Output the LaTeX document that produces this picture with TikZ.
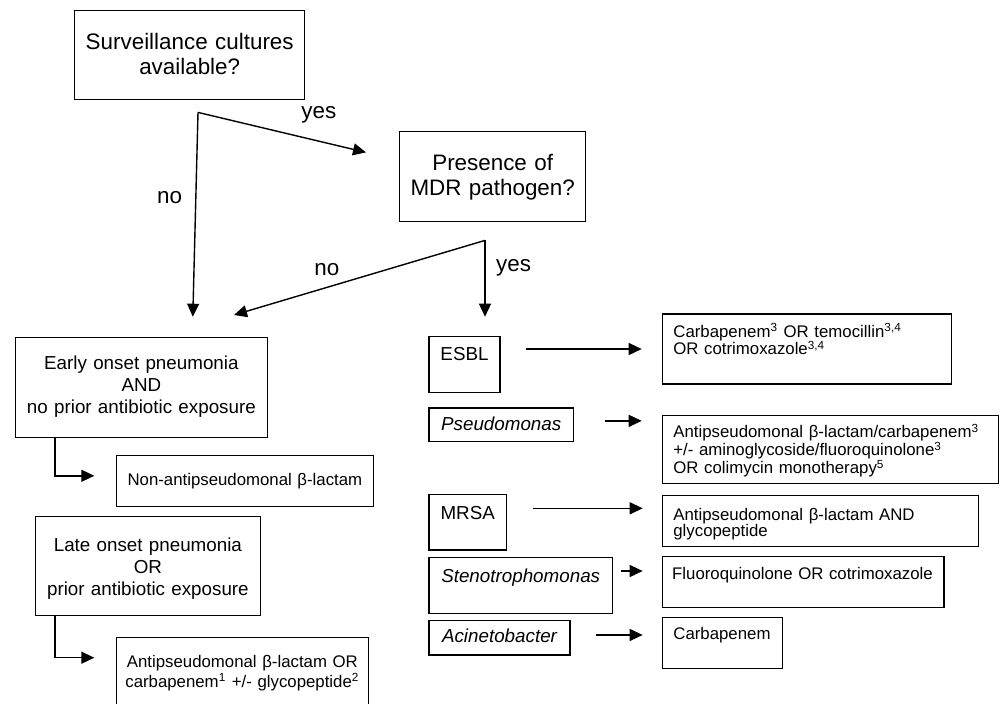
\documentclass[tikz,border=0pt]{standalone}
\usepackage{fontspec}
\setmainfont{Liberation Sans}
\usetikzlibrary{arrows.meta}

\begin{document}
\begin{tikzpicture}[
    x=0.5pt, y=-0.5pt,
    box/.style={draw, rectangle, anchor=north west, inner ysep=0pt, inner xsep=2pt, line width=0.7pt, align=center},
    sz/.style n args={3}{text width=#1, text height=#2, text depth=#3},
    big/.style={font=\fontsize{11.2}{12.5}\selectfont},
    mid/.style={font=\fontsize{9.4}{11}\selectfont},
    lx/.style={font=\fontsize{8.4}{10}\selectfont},
    rx/.style={font=\fontsize{8.4}{#1}\selectfont, align=left, inner xsep=5.5pt},
    lbl/.style={anchor=base west, inner sep=0pt, font=\fontsize{11.2}{12.5}\selectfont},
    arr/.style={-{Triangle[length=6.5pt,width=6pt]}, line width=0.7pt}
]
    \useasboundingbox (0,0) rectangle (1001,703);
    \clip (0,0) rectangle (1001,703);

    % questions
    \node[box, big, sz={111pt}{19.15pt}{25.35pt}] (surv) at (74,10) {Surveillance cultures\\available?};
    \node[box, big, sz={89pt}{19.15pt}{25.85pt}] (mdr) at (399,131) {Presence of\\MDR pathogen?};

    % no MDR pathogen
    \node[box, mid, sz={122pt}{16pt}{34pt}] (early) at (14.7,336.7) {Early onset pneumonia\\AND\\no prior antibiotic exposure};
    \node[box, lx, sz={124.5pt}{15pt}{10.5pt}] (nonap) at (115.7,455) {Non-antipseudomonal β-lactam};
    \node[box, mid, sz={108.5pt}{17.35pt}{32.15pt}] (late) at (34.7,515.7) {Late onset pneumonia\\OR\\prior antibiotic exposure};
    \node[box, lx, sz={122pt}{14.85pt}{19.15pt}] (apb) at (115.7,637) {Antipseudomonal β-lactam OR\\carbapenem\textsuperscript{1} +/- glycopeptide\textsuperscript{2}};

    % pathogens
    \node[box, mid, sz={31.5pt}{12pt}{15.85pt}] (esbl) at (428.3,336) {ESBL};
    \node[box, mid, sz={68.2pt}{11.35pt}{5.5pt}] (pseudo) at (428.3,407.3) {\itshape Pseudomonas};
    \node[box, mid, sz={34.7pt}{12.15pt}{15.5pt}] (mrsa) at (428.3,494) {MRSA};
    \node[box, mid, sz={87.7pt}{12.4pt}{15.6pt}] (steno) at (428.3,556.7) {\itshape Stenotrophomonas};
    \node[box, mid, sz={66.5pt}{10.85pt}{6.3pt}] (acin) at (428.3,620) {\itshape Acinetobacter};

    % treatments
    \node[box, rx=8.7, sz={133.65pt}{11.7pt}{23.3pt}] (carba) at (661.7,313.3) {Carbapenem\textsuperscript{3} OR temocillin\textsuperscript{3,4}\\OR cotrimoxazole\textsuperscript{3,4}};
    \node[box, rx=9, sz={157pt}{11pt}{23pt}] (apc) at (661.7,415) {Antipseudomonal β-lactam/carbapenem\textsuperscript{3}\\+/- aminoglycoside/fluoroquinolone\textsuperscript{3}\\OR colimycin monotherapy\textsuperscript{5}};
    \node[box, rx=8.2, sz={147.05pt}{12.15pt}{13.35pt}] (apd) at (661.7,495) {Antipseudomonal β-lactam AND\\glycopeptide};
    \node[box, rx=8.7, inner xsep=4.9pt, sz={131pt}{11.15pt}{14.2pt}] (fluoro) at (661.7,556) {Fluoroquinolone OR cotrimoxazole};
    \node[box, rx=8.7, sz={49pt}{10.8pt}{14.7pt}] (carbb) at (661.7,616.7) {Carbapenem};

    % branch points
    \coordinate (fork1) at ([xshift=4.15pt,yshift=-6pt]surv.south);
    \coordinate (fork2) at ([xshift=-3.85pt,yshift=-9pt]mdr.south);
    \coordinate (mrsaout) at ([yshift=-7.15pt]mrsa.north east);
    \coordinate (stenoout) at ([yshift=-7.15pt]steno.north east);

    \draw[arr] (fork1) -- ([xshift=-16.5pt,yshift=12.15pt]mdr.west);
    \draw[arr] (fork1) -- ([xshift=25.7pt,yshift=10pt]early.north);
    \draw[arr] (fork2) -- ([xshift=46.3pt,yshift=10.85pt]early.north);
    \draw[arr] (fork2) -- ([yshift=9.65pt]fork2 |- esbl.north);

    \draw[arr] ([xshift=20.15pt]early.south west) |- ([xshift=-10.7pt,yshift=2.7pt]nonap.west);
    \draw[arr] ([xshift=10.15pt]late.south west) |- ([xshift=-10.7pt,yshift=-10.35pt]apb.north west);

    \draw[arr, shorten <=12.5pt, shorten >=10pt] (esbl.east |- carba.west) -- (carba.west);
    \draw[arr, shorten <=15.3pt, shorten >=10pt] ([yshift=2pt]pseudo.east) -- ([yshift=2pt]pseudo.east -| apc.west);
    \draw[arr, shorten <=13pt, shorten >=9.5pt] (mrsaout) -- (mrsaout -| apd.west);
    \draw[arr, shorten <=4.15pt, shorten >=9.5pt] (stenoout) -- (stenoout -| fluoro.west);
    \draw[arr, shorten <=12.85pt, shorten >=9.5pt] ([yshift=1.45pt]acin.east) -- ([yshift=1.45pt]acin.east -| carbb.west);

    % branch labels
    \node[lbl] (yes1) at (301,118.6) {yes};
    \node[lbl] (no1) at (156.7,203) {no};
    \node[lbl] (no2) at (314,275) {no};
    \node[lbl] (yes2) at (495.7,271.6) {yes};
\end{tikzpicture}
\end{document}
